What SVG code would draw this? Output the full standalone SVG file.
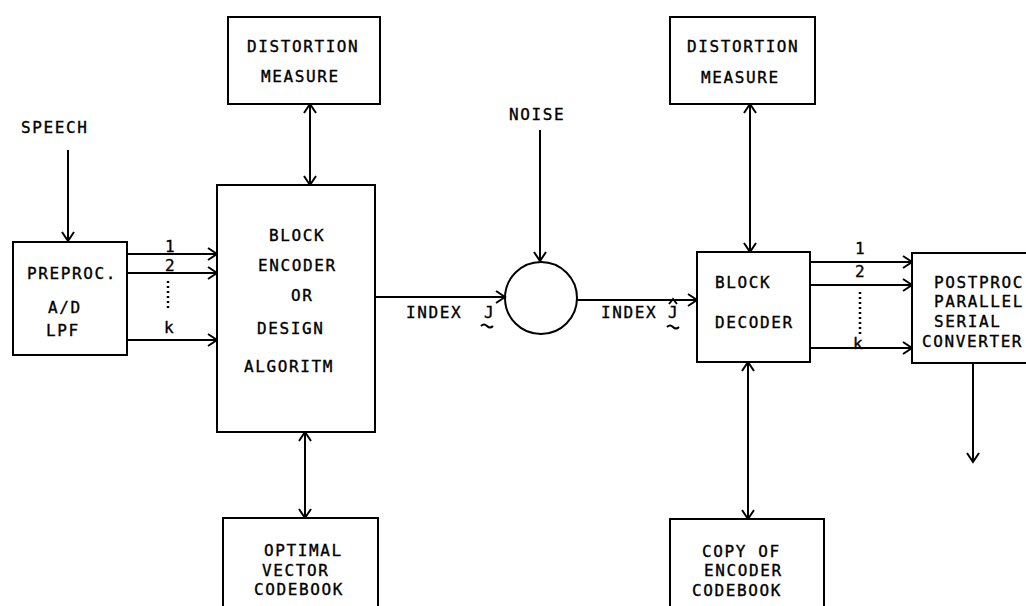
<svg xmlns="http://www.w3.org/2000/svg" width="1026" height="606" viewBox="0 0 1026 606">
<style>
  .box{fill:#fff;stroke:#000;stroke-width:2}
  .ln{fill:none;stroke:#000;stroke-width:2}
  .dot{fill:none;stroke:#000;stroke-width:2.5;stroke-dasharray:2 3}
  text{font-family:"DejaVu Sans Mono","Liberation Mono",monospace;font-size:16px;fill:#000;stroke:#000;stroke-width:0.35;letter-spacing:1.6px}
</style>
<defs>
  <marker id="ah" markerWidth="14" markerHeight="14" refX="11" refY="7" orient="auto-start-reverse" markerUnits="userSpaceOnUse">
    <path d="M2,1 L11,7 L2,13" fill="none" stroke="#000" stroke-width="2"/>
  </marker>
</defs>
<rect width="1026" height="606" fill="#fff"/>

<g id="connectors">
  <line class="ln" x1="68" y1="150" x2="68" y2="241" marker-end="url(#ah)"/>
  <line class="ln" x1="127" y1="254" x2="217" y2="254" marker-end="url(#ah)"/>
  <line class="ln" x1="127" y1="273" x2="217" y2="273" marker-end="url(#ah)"/>
  <line class="ln" x1="127" y1="340" x2="217" y2="340" marker-end="url(#ah)"/>
  <line class="dot" x1="168" y1="281" x2="168" y2="308"/>
  <line class="ln" x1="310" y1="104" x2="310" y2="185" marker-start="url(#ah)" marker-end="url(#ah)"/>
  <line class="ln" x1="305" y1="432" x2="305" y2="518" marker-start="url(#ah)" marker-end="url(#ah)"/>
  <line class="ln" x1="375" y1="297" x2="505" y2="297" marker-end="url(#ah)"/>
  <line class="ln" x1="540" y1="130" x2="540" y2="261" marker-end="url(#ah)"/>
  <line class="ln" x1="577" y1="300" x2="697" y2="300" marker-end="url(#ah)"/>
  <line class="ln" x1="750" y1="104" x2="750" y2="252" marker-start="url(#ah)" marker-end="url(#ah)"/>
  <line class="ln" x1="748" y1="362" x2="748" y2="519" marker-start="url(#ah)" marker-end="url(#ah)"/>
  <line class="ln" x1="810" y1="262" x2="912" y2="262" marker-end="url(#ah)"/>
  <line class="ln" x1="810" y1="285" x2="912" y2="285" marker-end="url(#ah)"/>
  <line class="ln" x1="810" y1="348" x2="912" y2="348" marker-end="url(#ah)"/>
  <line class="dot" x1="860" y1="292" x2="860" y2="336"/>
  <line class="ln" x1="973" y1="363" x2="973" y2="462" marker-end="url(#ah)"/>
</g>

<g id="labels">
  <text x="21" y="133">SPEECH</text>
  <text x="509" y="120">NOISE</text>
  <text x="165" y="252">1</text>
  <text x="165" y="271">2</text>
  <text x="164" y="333">k</text>
  <text x="855" y="254">1</text>
  <text x="855" y="277">2</text>
  <text x="853" y="349">k</text>
  <text x="406" y="318">INDEX</text>
  <text x="484" y="318">J</text>
  <path class="ln" d="M481,326 q3,-3 6,0 t6,0" stroke-width="1.8"/>
  <text x="601" y="318">INDEX</text>
  <text x="668" y="318">J</text>
  <path class="ln" d="M669,304 l4,-5 l4,5" stroke-width="1.6"/>
  <path class="ln" d="M667,327 q3,-3 6,0 t6,0" stroke-width="1.8"/>
</g>

<g id="preproc">
  <rect class="box" x="13" y="242" width="114" height="113"/>
  <text x="27" y="279">PREPROC.</text>
  <text x="48" y="313">A/D</text>
  <text x="46" y="336">LPF</text>
</g>

<g id="encoder">
  <rect class="box" x="217" y="185" width="158" height="247"/>
  <text x="269" y="241">BLOCK</text>
  <text x="258" y="271">ENCODER</text>
  <text x="291" y="301">OR</text>
  <text x="257" y="334">DESIGN</text>
  <text x="244" y="372">ALGORITM</text>
</g>

<g id="distortion1">
  <rect class="box" x="228" y="17" width="152" height="87"/>
  <text x="247" y="52">DISTORTION</text>
  <text x="261" y="82">MEASURE</text>
</g>

<g id="codebook1">
  <rect class="box" x="223" y="518" width="155" height="95"/>
  <text x="264" y="556">OPTIMAL</text>
  <text x="262" y="576">VECTOR</text>
  <text x="254" y="595">CODEBOOK</text>
</g>

<g id="channel">
  <circle class="ln" cx="541" cy="298" r="36"/>
</g>

<g id="distortion2">
  <rect class="box" x="670" y="17" width="145" height="87"/>
  <text x="687" y="52">DISTORTION</text>
  <text x="701" y="83">MEASURE</text>
</g>

<g id="decoder">
  <rect class="box" x="697" y="252" width="113" height="110"/>
  <text x="715" y="288">BLOCK</text>
  <text x="715" y="328">DECODER</text>
</g>

<g id="codebook2">
  <rect class="box" x="670" y="519" width="154" height="95"/>
  <text x="702" y="557">COPY OF</text>
  <text x="704" y="576">ENCODER</text>
  <text x="692" y="596">CODEBOOK</text>
</g>

<g id="postproc">
  <rect class="box" x="912" y="253" width="120" height="110"/>
  <text x="934" y="288">POSTPROC</text>
  <text x="934" y="307">PARALLEL</text>
  <text x="934" y="327">SERIAL</text>
  <text x="922" y="347">CONVERTER</text>
</g>
</svg>
